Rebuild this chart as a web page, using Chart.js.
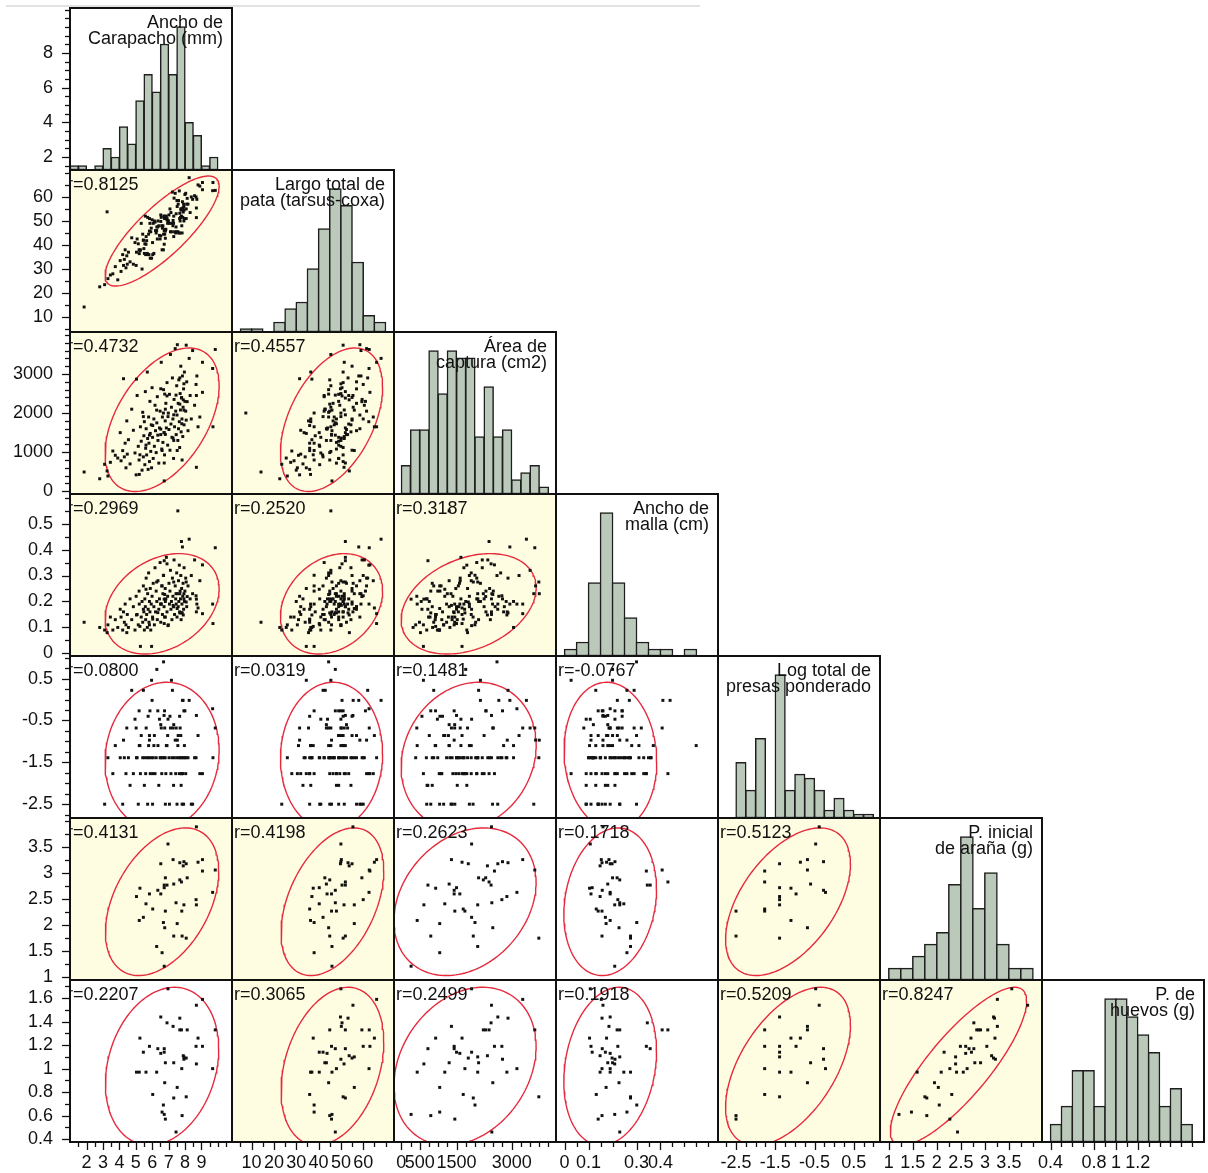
<!DOCTYPE html>
<html>
<head>
<meta charset="utf-8">
<script src="https://cdn.jsdelivr.net/npm/chart.js@4.4.0/dist/chart.umd.min.js"></script>
<style>
  html, body { margin: 0; padding: 0; background: #fff; }
  #wrap { position: relative; width: 1208px; height: 1173px; }
</style>
</head>
<body>
<div id="wrap"><canvas id="matriz" width="1208" height="1173"></canvas></div>
<script>
// observaciones: primero las 45 con pesos, luego el resto
var carapacho = [
  6.73, 6.60, 6.27, 8.07, 7.31, 7.82, 6.76, 7.52, 6.68, 5.21, 5.46, 7.80, 6.80, 6.03, 7.93, 8.69, 5.62, 7.45, 8.67, 5.04,
  5.83, 6.52, 9.68, 6.34, 5.25, 6.73, 6.90, 6.73, 7.31, 7.78, 7.68, 8.13, 6.80, 9.06, 9.84, 7.89, 6.52, 8.07, 7.68, 8.79,
  7.93, 9.06, 7.27, 6.96, 8.69,
  1.85, 2.80, 3.10, 3.25, 3.30, 3.45, 3.60, 3.75, 3.90, 4.05, 4.10, 4.20, 4.25, 4.30, 4.35, 4.40, 4.45, 4.48, 4.55, 4.65,
  4.75, 4.85, 4.95, 5.02, 5.08, 5.15, 5.20, 5.28, 5.33, 5.38, 5.42, 5.46, 5.49, 5.52, 5.55, 5.58, 5.60, 5.63, 5.66, 5.70,
  5.72, 5.75, 5.78, 5.80, 5.83, 5.86, 5.88, 5.91, 5.94, 5.96, 5.99, 6.02, 6.06, 6.10, 6.13, 6.17, 6.20, 6.24, 6.28, 6.31,
  6.35, 6.40, 6.44, 6.48, 6.52, 6.55, 6.58, 6.62, 6.65, 6.69, 6.72, 6.75, 6.79, 6.83, 6.86, 6.90, 6.94, 6.98, 7.02, 7.05,
  7.08, 7.11, 7.14, 7.17, 7.20, 7.23, 7.26, 7.30, 7.33, 7.36, 7.40, 7.43, 7.46, 7.49, 7.51, 7.53, 7.56, 7.58, 7.60, 7.62,
  7.65, 7.67, 7.70, 7.72, 7.74, 7.76, 7.79, 7.81, 7.84, 7.86, 7.88, 7.91, 7.94, 7.96, 7.99, 8.04, 8.10, 8.18, 8.25, 8.31,
  8.38, 8.46, 8.58, 8.72, 8.90, 9.70,
  null
];
var pata = [
  46, 38, 46, 51, 52, 45, 44.5, 56, 38, 36.4, 42, 48, 45.8, 36, 56, 51.4, 40.3, 47.5, 60, 37,
  45.8, 43.8, 62.6, 47.5, 37.6, 40.3, 50.5, 52, 43.5, 52, 45, 59.4, 42.8, 63, 62.7, 53.7, 49.8, 55, 53.2, 65,
  50, 66, 50.2, 50, 55.4,
  14.2, 22.6, 23.5, 53.8, 26.0, 27.5, 28.0, 31.0, 25.5, 33.5, 29.0, 36.0, 31.5, 34.0, 38.0, 30.5, 35.5, 32.0, 37.0, 33.0,
  43.0, 32.0, 41.0, 31.5, 42.5, 40.5, 38.0, 38.0, 49.0, 30.0, 44.5, 42.0, 38.5, 36.5, 40.5, 52.0, 36.0, 43.5, 41.8, 36.5,
  51.5, 36.0, 44.5, 36.0, 51.0, 49.0, 34.5, 45.5, 47.0, 34.5, 50.5, 41.0, 49.0, 36.5, 50.0, 49.5, 46.0, 45.0, 47.5, 42.5,
  50.0, 48.0, 44.0, 42.5, 52.5, 51.5, 48.0, 47.0, 48.0, 44.5, 52.0, 51.0, 46.5, 46.5, 52.0, 51.0, 49.0, 50.0, 52.5, 49.0,
  55.0, 45.5, 53.5, 45.5, 49.0, 62.0, 48.0, 49.0, 59.5, 45.5, 61.5, 45.0, 53.0, 45.5, 58.5, 58.5, 45.5, 57.0, 58.5, 45.0,
  62.5, 51.0, 50.0, 51.5, 55.0, 54.5, 55.0, 55.0, 58.0, 51.5, 55.5, 57.0, 54.5, 51.0, 61.0, 61.5, 57.0, 57.0, 68.0, 53.5,
  60.0, 59.0, 60.5, 59.0, 64.5, 66.0,
  7.4
];
var area = [
  265, 1043, 2076, 3738, 1956, 800, 2486, 1043, 2002, 431, 1910, 1728, 1454, 1682, 2076, 613, 1181, 2460, 2733, 2869,
  1436, 1590, 3142, 1436, 933, 1500, 2439, 723, 1300, 2385, 2229, 2293, 2100, 2531, 3628, 2340, 2623, 1820, 2900, 1650,
  2750, 3300, 1362, 1910, 2450,
  493, 320, 690, 520, 390, 740, 1030, 920, 850, 1500, 780, 1040, 2880, 880, 1230, 600, 1800, 950, 1320, 700,
  2100, 1560, 980, 420, 2450, 1150, 800, 1650, 1280, 540, 2020, 880, 1420, 1780, 680, 2550, 1100, 1600, 930, 3050,
  1350, 560, 1900, 1230, 760, 2300, 1480, 1020, 1700, 600, 2650, 1380, 840, 1850, 1150, 2200, 1550, 990, 1750, 2420,
  1300, 720, 1620, 2050, 1450, 3300, 1080, 1900, 1250, 2600, 1500, 930, 1800, 2250, 1620, 2780, 1180, 2000, 1580, 2480,
  1050, 3500, 1720, 2150, 1380, 2900, 1850, 840, 2350, 1650, 3650, 2050, 1450, 2700, 1950, 3750, 1300, 2250, 1600, 2850,
  1780, 1120, 2500, 2080, 3200, 1520, 2400, 1850, 2950, 1400, 2150, 2620, 1700, 3050, 2300, 2050, 2800, 1550, 3400, 2450,
  1850, 3600, 2200, 2950, 1900, 1650,
  2002
];
var malla = [
  0.209, 0.260, 0.275, 0.275, 0.275, 0.156, 0.227, 0.173, 0.301, 0.190, 0.170, 0.156, 0.140, 0.132, 0.230, 0.209, 0.247, 0.230, 0.222, 0.148,
  0.110, 0.190, 0.190, 0.157, 0.104, 0.115, 0.345, 0.357, 0.180, 0.431, 0.230, 0.219, 0.200, 0.341, 0.407, 0.148, 0.190, 0.198, 0.156, 0.175,
  0.210, 0.153, 0.185, 0.107, 0.160,
  0.12, 0.10, 0.09, 0.08, 0.11, 0.14, 0.09, 0.13, 0.10, 0.17, 0.14, 0.09, 0.16, 0.12, 0.19, 0.11, 0.08, 0.15, 0.10, 0.21,
  0.13, 0.18, 0.09, 0.22, 0.15, 0.11, 0.24, 0.027, 0.14, 0.20, 0.12, 0.26, 0.16, 0.09, 0.21, 0.18, 0.13, 0.29, 0.15, 0.10,
  0.23, 0.17, 0.31, 0.12, 0.20, 0.16, 0.25, 0.09, 0.19, 0.027, 0.22, 0.14, 0.27, 0.18, 0.11, 0.33, 0.16, 0.24, 0.20, 0.13,
  0.28, 0.17, 0.21, 0.35, 0.12, 0.19, 0.26, 0.15, 0.23, 0.30, 0.18, 0.14, 0.25, 0.21, 0.37, 0.16, 0.22, 0.11, 0.27, 0.19,
  0.24, 0.32, 0.17, 0.20, 0.13, 0.29, 0.22, 0.18, 0.36, 0.15, 0.26, 0.21, 0.19, 0.31, 0.14, 0.23, 0.549, 0.18, 0.28, 0.20,
  0.34, 0.16, 0.24, 0.21, 0.30, 0.13, 0.25, 0.19, 0.41, 0.22, 0.27, 0.17, 0.33, 0.20, 0.24, 0.29, 0.18, 0.26, 0.44, 0.21,
  0.30, 0.23, 0.36, 0.19, 0.28, 0.115,
  null
];
var presas = [
  null, null, null, -1.39, null, -2.5, -0.68, null, null, -1.1, null, -1.77, -2.5, -1.77, -1.39, null, null, null, -1.39, -1.39,
  -0.97, null, -0.22, -0.27, -1.1, -1.39, null, null, -0.6, -1.77, null, null, null, -1.77, -0.68, null, -1.39, null, null, -0.86,
  -0.27, null, -0.68, -0.47, -0.38,
  null, null, -2.5, null, -1.39, null, -1.77, -1.1, null, -1.39, null, -2.5, -0.97, -1.39, null, -1.77, -0.68, null, -1.39, -2.05,
  0.22, -1.77, -0.47, -0.68, -1.39, -2.5, -0.27, -1.77, -0.86, null, -1.39, 0.22, null, -2.05, -1.39, null, -1.77, -0.68, null, -1.39,
  -2.5, -0.4, -1.1, -1.39, -0.86, -0.27, -1.77, null, -1.39, 0.46, -0.02, -2.5, -1.39, -1.1, -0.86, -1.77, null, -1.39, 0.72, null,
  -1.1, -2.05, -0.47, -1.39, -0.6, -0.68, -1.77, -1.39, null, 0.9, -0.38, -0.27, -1.39, -1.77, -1.1, -1.1, -0.86, null, -1.39, -2.5,
  -0.4, -0.68, -1.77, 0.46, -1.39, 0.22, null, -2.05, -1.39, null, -0.97, -1.77, -0.68, -1.39, -2.5, -0.97, -1.1, -0.86, null, -1.39,
  -1.77, -0.4, -0.68, -1.39, -0.86, -2.05, -1.39, null, -0.02, -1.77, -0.02, -2.5, -1.39, -1.1, -0.27, -1.77, null, -1.39, -0.02, null,
  -2.5, -2.5, -1.39, null, -1.77, -1.39,
  null
];
var pesoArana = [
  1.21, 1.47, 1.59, 1.75, 1.79, 1.79, 1.95, 2.03, 2.05, 2.09, 2.15, 2.27, 2.27, 2.31, 2.39, 2.39, 2.41, 2.43, 2.49, 2.55,
  2.60, 2.60, 2.63, 2.67, 2.71, 2.72, 2.77, 2.77, 2.79, 2.83, 2.87, 2.91, 2.91, 3.04, 3.06, 3.14, 3.18, 3.18, 3.20, 3.21,
  3.22, 3.26, 3.26, 3.56, 3.89
].concat(new Array(127).fill(null));
var pesoHuevos = [
  0.61, 0.63, 0.97, 0.76, 0.75, 0.60, 0.88, 0.84, 0.69, 0.97, 1.14, 1.00, 0.57, 0.78, 1.10, 1.04, 0.97, 0.46, 1.19, 0.97,
  1.19, 1.13, 1.00, 1.17, 1.26, 1.14, 1.39, 1.17, 1.05, 1.33, 1.33, 1.33, 1.05, 1.19, 1.33, 1.11, 1.44, 1.09, 1.43, 1.26,
  1.08, 1.59, 1.36, 1.68, 1.54
].concat(new Array(127).fill(null));

var columnas = [carapacho, pata, area, malla, presas, pesoArana, pesoHuevos];
var titulos = [
  ['Ancho de', 'Carapacho (mm)'],
  ['Largo total de', 'pata (tarsus-coxa)'],
  ['Área de', 'captura (cm2)'],
  ['Ancho de', 'malla (cm)'],
  ['Log total de', 'presas ponderado'],
  ['P. inicial', 'de araña (g)'],
  ['P. de', 'huevos (g)']
];

// rango de cada eje
var ejeMin = [1.25, 3.8, -70, -0.01, -2.83, 0.945, 0.375];
var ejeMax = [10.6, 71.2, 4075, 0.614, 1.04, 4.06, 1.755];
var etiquetasX = [[2, 3, 4, 5, 6, 7, 8, 9], [10, 20, 30, 40, 50, 60], [0, 500, 1500, 3000], [0, 0.1, 0.3, 0.4],
  [-2.5, -1.5, -0.5, 0.5], [1, 1.5, 2, 2.5, 3, 3.5], [0.4, 0.8, 1, 1.2]];
var etiquetasY = [[2, 4, 6, 8], [10, 20, 30, 40, 50, 60], [0, 1000, 2000, 3000], [0, 0.1, 0.2, 0.3, 0.4, 0.5],
  [-2.5, -1.5, -0.5, 0.5], [1, 1.5, 2, 2.5, 3, 3.5], [0.4, 0.6, 0.8, 1, 1.2, 1.4, 1.6]];
var pasoX = [0.5, 5, 250, 0.05, 0.25, 0.25, 0.1];
var pasoY = [0.5, 5, 200, 0.05, 0.25, 0.25, 0.1];

// histogramas de la diagonal
var inicioClase = [1.0, 5, 0, 0, -2.5, 1.0, 0.4];
var anchoClase = [0.5, 5, 250, 0.05, 0.25, 0.25, 0.1];
var conteos = [
  [1, 1, 0, 1, 5, 3, 10, 6, 16, 22, 18, 29, 22, 33, 11, 8, 1, 3],
  [1, 1, 0, 3, 7, 9, 19, 31, 43, 38, 21, 5, 3],
  [4, 9, 9, 20, 14, 20, 19, 19, 8, 15, 8, 9, 2, 3, 4, 1],
  [2, 4, 21, 41, 21, 11, 4, 2, 2, 0, 2],
  [14, 7, 20, 0, 36, 7, 11, 10, 7, 2, 5, 2, 1, 1],
  [1, 1, 2, 3, 4, 8, 12, 6, 9, 3, 1, 1],
  [1, 2, 4, 4, 2, 8, 8, 7, 6, 5, 2, 3, 1]
];

// correlaciones y celdas significativas (fondo amarillo)
var rValores = [[], [0.8125], [0.4732, 0.4557], [0.2969, 0.2520, 0.3187], [0.0800, 0.0319, 0.1481, -0.0767],
  [0.4131, 0.4198, 0.2623, 0.1718, 0.5123], [0.2207, 0.3065, 0.2499, 0.1918, 0.5209, 0.8247]];
var significativo = [[], [1], [1, 1], [1, 1, 1], [0, 0, 0, 0], [1, 1, 0, 0, 1], [0, 1, 0, 0, 1, 1]];

// medias y desviaciones para las elipses de densidad (muestra total y submuestra con pesos)
var mediaTotal = [6.6, 45.8, 1830, 0.191, -1.35];
var desvTotal = [1.42, 9.35, 750, 0.079, 0.72];
var mediaSub = [6.6, 46.2, 1730, 0.19, -1.175, 2.45, 1.02];
var desvSub = [1.41, 9.4, 790, 0.079, 0.65, 0.58, 0.275];

var CELDA = 162;
var FUENTE = '"Liberation Sans", Arial, Helvetica, sans-serif';
Chart.defaults.font.family = FUENTE;
Chart.defaults.font.size = 18;
Chart.defaults.color = '#111';

function elipse(mx, my, sx, sy, r) {
  var k = Math.sqrt(5.991), pts = [];
  for (var t = 0; t <= 144; t++) {
    var a = t / 144 * 2 * Math.PI;
    pts.push({x: mx + k * sx * Math.cos(a), y: my + k * sy * (r * Math.cos(a) + Math.sqrt(1 - r * r) * Math.sin(a))});
  }
  return pts;
}

function marcas(min, max, paso) {
  var out = [], v = Math.ceil((min - 1e-9) / paso) * paso;
  for (; v <= max + 1e-9; v += paso) out.push({value: +v.toFixed(6)});
  return out;
}

function etiqueta(lista, paso, value) {
  for (var k = 0; k < lista.length; k++) {
    if (Math.abs(lista[k] - value) < paso / 10) return String(lista[k]);
  }
  return '';
}

// escalas apiladas: una columna por variable, una fila por variable
var escalas = {};
for (var j = 0; j < 7; j++) {
  (function (j) {
    escalas['x' + j] = {
      type: 'linear', position: 'bottom', stack: 'columnas', stackWeight: 1,
      min: ejeMin[j], max: ejeMax[j],
      afterBuildTicks: function (s) { s.ticks = marcas(ejeMin[j], ejeMax[j], pasoX[j]); },
      afterFit: function (s) { s.height = 31; s.paddingLeft = 0; s.paddingRight = 0; },
      ticks: {autoSkip: false, maxRotation: 0, minRotation: 0, padding: 10,
        callback: function (v) { return etiqueta(etiquetasX[j], pasoX[j], v); }},
      grid: {display: false, drawTicks: false},
      border: {display: false}
    };
  })(j);
}
for (var i = 6; i >= 0; i--) {
  (function (i) {
    escalas['y' + i] = {
      type: 'linear', position: 'left', stack: 'filas', stackWeight: 1,
      min: ejeMin[i], max: ejeMax[i],
      afterBuildTicks: function (s) { s.ticks = marcas(ejeMin[i], ejeMax[i], pasoY[i]); },
      afterFit: function (s) { s.width = 70; s.paddingTop = 0; s.paddingBottom = 0; },
      ticks: {autoSkip: false, padding: 17,
        callback: function (v) { return etiqueta(etiquetasY[i], pasoY[i], v); }},
      grid: {display: false, drawTicks: false},
      border: {display: false}
    };
  })(i);
}
for (i = 0; i < 7; i++) {
  escalas['h' + i] = {
    type: 'linear', position: 'right', stack: 'conteo', stackWeight: 1, display: false,
    min: 0, max: Math.max.apply(null, conteos[i]) / 0.885
  };
}

var conjuntos = [];
for (i = 0; i < 7; i++) {
  for (j = 0; j <= i; j++) {
    if (i === j) {
      var barras = conteos[i].map(function (n, k) {
        return {x: inicioClase[i] + (k + 0.5) * anchoClase[i], y: n > 0 ? n : null};
      });
      conjuntos.push({
        type: 'bar', xAxisID: 'x' + i, yAxisID: 'h' + i, data: barras,
        backgroundColor: '#bac9b9', borderColor: '#1e1e1e', borderWidth: 1.5, borderSkipped: false,
        grouped: false, barThickness: anchoClase[i] / (ejeMax[i] - ejeMin[i]) * CELDA, clip: 0
      });
      continue;
    }
    var puntos = [];
    for (var k = 0; k < columnas[j].length; k++) {
      if (columnas[j][k] !== null && columnas[i][k] !== null) puntos.push({x: columnas[j][k], y: columnas[i][k]});
    }
    conjuntos.push({
      type: 'scatter', xAxisID: 'x' + j, yAxisID: 'y' + i, data: puntos,
      pointStyle: 'rect', pointRadius: 2.1, pointBorderWidth: 0, backgroundColor: '#111', clip: 0
    });
    var med = i >= 5 ? mediaSub : mediaTotal, des = i >= 5 ? desvSub : desvTotal;
    conjuntos.push({
      type: 'scatter', xAxisID: 'x' + j, yAxisID: 'y' + i, showLine: true, tension: 0,
      data: elipse(med[j], med[i], des[j], des[i], rValores[i][j]),
      pointRadius: 0, borderColor: '#e62a3d', borderWidth: 1.4, fill: false, clip: 0
    });
  }
}

function caja(chart, i, j) {
  var sx = chart.scales['x' + j], sy = chart.scales['y' + i];
  return {l: sx.left, r: sx.right, t: sy.top, b: sy.bottom};
}

var celdas = {
  id: 'celdas',
  beforeDatasetsDraw: function (chart) {
    var ctx = chart.ctx;
    ctx.save();
    // línea gris tenue sobre la matriz
    ctx.strokeStyle = '#e2e2e2';
    ctx.lineWidth = 2;
    ctx.beginPath();
    ctx.moveTo(6, 6);
    ctx.lineTo(700, 6);
    ctx.stroke();
    ctx.fillStyle = '#fffde1';
    for (var i = 1; i < 7; i++) {
      for (var j = 0; j < i; j++) {
        if (!significativo[i][j]) continue;
        var b = caja(chart, i, j);
        ctx.fillRect(b.l, b.t, b.r - b.l, b.b - b.t);
      }
    }
    ctx.restore();
  },
  afterDatasetsDraw: function (chart) {
    var ctx = chart.ctx;
    ctx.save();
    ctx.font = '18px ' + FUENTE;
    ctx.fillStyle = '#111';
    for (var i = 0; i < 7; i++) {
      for (var j = 0; j <= i; j++) {
        var b = caja(chart, i, j);
        ctx.save();
        ctx.beginPath();
        ctx.rect(b.l, b.t, b.r - b.l, b.b - b.t);
        ctx.clip();
        if (i === j) {
          ctx.textAlign = 'right';
          ctx.fillText(titulos[i][0], b.r - 9, b.t + 20);
          ctx.fillText(titulos[i][1], b.r - 9, b.t + 36);
        } else {
          ctx.textAlign = 'left';
          ctx.fillText('r=' + rValores[i][j].toFixed(4), b.l + (j === 0 ? -3 : 2), b.t + 20);
        }
        ctx.restore();
        ctx.strokeStyle = '#111';
        ctx.lineWidth = 2;
        ctx.strokeRect(b.l, b.t, b.r - b.l, b.b - b.t);
      }
    }
    ctx.restore();
  }
};

// marcas de los ejes: largas con etiqueta, cortas sin ella
var marcasEjes = {
  id: 'marcasEjes',
  afterDraw: function (chart) {
    var ctx = chart.ctx;
    ctx.save();
    ctx.strokeStyle = '#111';
    ctx.lineWidth = 1.3;
    for (var j = 0; j < 7; j++) {
      var sx = chart.scales['x' + j];
      sx.ticks.forEach(function (t) {
        var p = Math.round(sx.getPixelForValue(t.value)) + 0.5;
        ctx.beginPath();
        ctx.moveTo(p, sx.top + 1);
        ctx.lineTo(p, sx.top + (t.label ? 8 : 5));
        ctx.stroke();
      });
      var sy = chart.scales['y' + j];
      sy.ticks.forEach(function (t) {
        var p = Math.round(sy.getPixelForValue(t.value)) + 0.5;
        ctx.beginPath();
        ctx.moveTo(sy.right - 1, p);
        ctx.lineTo(sy.right - (t.label ? 8 : 5), p);
        ctx.stroke();
      });
    }
    ctx.restore();
  }
};

new Chart(document.getElementById('matriz'), {
  type: 'scatter',
  data: {datasets: conjuntos},
  options: {
    responsive: false,
    animation: false,
    devicePixelRatio: 1,
    events: [],
    layout: {padding: {top: 8, right: 4, left: 0, bottom: 0}},
    plugins: {legend: {display: false}, tooltip: {enabled: false}},
    scales: escalas
  },
  plugins: [celdas, marcasEjes]
});
</script>
</body>
</html>
